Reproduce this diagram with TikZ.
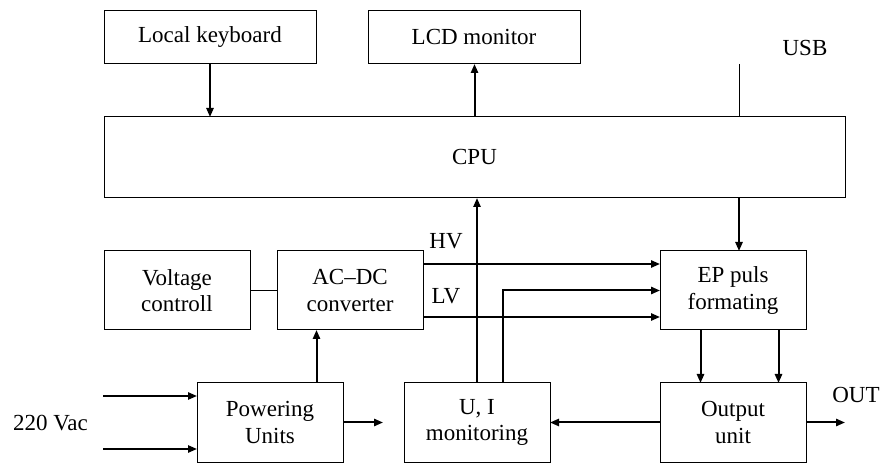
\documentclass[tikz,border=0pt]{standalone}
\usepackage{fontspec}
\setmainfont{Liberation Serif}
\usetikzlibrary{
positioning,
arrows.meta,
calc
}
\tikzset{
box/.style={
draw,
line width=.5pt,
align=center,
minimum height=26.5pt,
minimum width=106pt,
inner sep=1pt,
outer sep=0pt
},
smallbox/.style={
draw,
line width=.5pt,
align=center,
minimum height=39.5pt,
minimum width=73pt,
inner sep=1pt,
outer sep=0pt
},
cpubox/.style={
draw,
line width=.5pt,
minimum height=40.5pt,
minimum width=370.5pt,
outer sep=0pt
},
arrow/.style={
-{Triangle[length=4.5pt,width=3.6pt]},
line width=1pt
},
wire/.style={
line width=.5pt
},
lbl/.style={
inner sep=0pt
}
}

\begin{document}
\begin{tikzpicture}[font=\fontsize{11.5}{13.3}\selectfont]

\useasboundingbox (0,0) rectangle (441.5pt,-232pt);

\node[box] (kbd) at (105pt,-18.75pt) {Local keyboard};
\node[box, right=26pt of kbd] (lcd) {LCD monitor};
\node[cpubox, below right=26.5pt and 0pt of kbd.south west] (cpu) {CPU};

\node[smallbox, below right=26.5pt and 0pt of cpu.south west] (volt) {Voltage\\controll};
\node[smallbox, right=13.5pt of volt] (acdc) {AC--DC\\converter};
\node[smallbox, right=118.5pt of acdc] (ep) {EP puls\\formating};
\node[smallbox, below right=26.5pt and 46.5pt of volt.south west] (pwr) {Powering\\Units};
\node[smallbox, right=30.5pt of pwr] (ui) {U, I\\monitoring};
\node[smallbox, below=26.5pt of ep] (out) {Output\\unit};

\coordinate (usb) at ($(cpu.north east)+(-53pt,26.5pt)$);
\coordinate (pwrup) at ($(pwr.north)+(23.25pt,0)$);
\coordinate (pwrout) at ($(pwr.east)+(20pt,0)$);
\coordinate (outend) at ($(out.east)+(19.5pt,0)$);
\coordinate (hv) at ($(acdc.east)+(0,13.25pt)$);
\coordinate (lv) at ($(acdc.east)+(0,-13.25pt)$);
\coordinate (acin1) at ($(pwr.west)+(-47pt,13.25pt)$);
\coordinate (acin2) at ($(pwr.west)+(-47pt,-13.25pt)$);
\coordinate (uisense) at ($(ui.north)+(12.75pt,0)$);
\coordinate (epa) at ($(ep.south)+(-16.25pt,0)$);
\coordinate (epb) at ($(ep.south)+(22.75pt,0)$);

\node[lbl] (usblbl) at ($(usb)+(33pt,7.75pt)$) {USB};
\node[lbl] (hvlbl) at ($(acdc.north east)+(11.5pt,5pt)$) {HV};
\node[lbl] (lvlbl) at ($(acdc.east)+(11.5pt,-2.75pt)$) {LV};
\node[lbl] (aclbl) at ($(pwr.west)+(-73.25pt,-0.5pt)$) {220 Vac};
\node[lbl] (outlbl) at ($(out.east)+(25pt,14pt)$) {OUT};

% top part
\draw[arrow] (kbd) -- (kbd |- cpu.north);
\draw[arrow] (cpu.north) -- (cpu.north |- lcd.south);
\draw[wire] (usb) -- (usb |- cpu.north);
\draw[arrow] (usb |- cpu.south) -- (usb |- ep.north);

% power side
\draw[wire] (volt) -- (acdc);
\draw[arrow] (hv) -- (hv -| ep.west);
\draw[arrow] (lv) -- (lv -| ep.west);
\draw[arrow] (pwrup) -- (pwrup |- acdc.south);
\draw[arrow] (acin1) -- (acin1 -| pwr.west);
\draw[arrow] (acin2) -- (acin2 -| pwr.west);
\draw[arrow] (pwr.east) -- (pwrout);

% monitoring and output
\draw[arrow] (ui.north) -- (ui.north |- cpu.south);
\draw[arrow] (uisense) |- (ep.west);
\draw[arrow] (epa) -- (epa |- out.north);
\draw[arrow] (epb) -- (epb |- out.north);
\draw[arrow] (out) -- (ui);
\draw[arrow] (out.east) -- (outend);

\end{tikzpicture}
\end{document}
